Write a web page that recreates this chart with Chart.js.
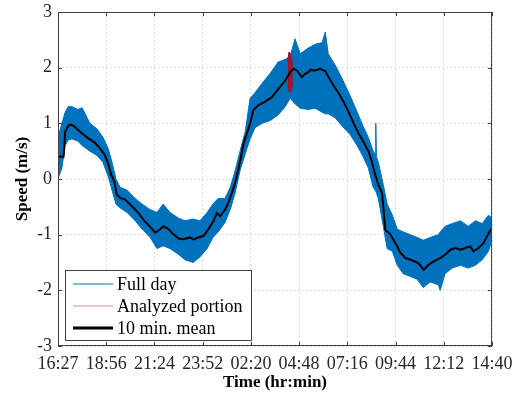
<!DOCTYPE html>
<html>
<head>
<meta charset="utf-8">
<script src="https://cdn.jsdelivr.net/npm/chart.js@4/dist/chart.umd.min.js"></script>
<style>
  html, body { margin: 0; padding: 0; background: #fff; }
  canvas { display: block; }
</style>
</head>
<body>
<canvas id="speedChart" width="519" height="395"></canvas>
<script>
// time axis: minutes after 16:27, labels every ~148 min
const timeLabels = ['16:27', '18:56', '21:24', '23:52', '02:20', '04:48', '07:16', '09:44', '12:12', '14:40'];
const spanMinutes = 1333;

// full-day record, drawn as the band between its upper and lower edge
const envTime = [0, 12, 22, 31, 43, 61, 74, 98, 120, 138, 154, 166, 178, 191, 212, 237, 258, 283, 304, 323,
  344, 369, 390, 415, 436, 458, 476, 492, 513, 529, 544, 559, 575, 590, 605, 627, 652, 676, 698, 713,
  728, 744, 768, 790, 811, 821, 830, 851, 873, 897, 919, 937, 953, 968, 974, 976, 978, 984, 999, 1011,
  1027, 1042, 1060, 1082, 1103, 1122, 1143, 1168, 1174, 1189, 1211, 1236, 1260, 1282, 1303, 1322, 1333];
const envUpper = [0.75, 1.0, 1.2, 1.3, 1.3, 1.25, 1.28, 1.0, 0.9, 0.75, 0.55, 0.3, 0.0, -0.15, -0.2, -0.35, -0.45, -0.55, -0.6, -0.45,
  -0.6, -0.7, -0.75, -0.72, -0.75, -0.6, -0.45, -0.35, -0.35, -0.15, 0.15, 0.5, 0.85, 1.45, 1.55, 1.72, 1.9, 2.1, 2.15, 2.2,
  2.52, 2.25, 2.35, 2.42, 2.45, 2.64, 2.25, 2.05, 1.8, 1.5, 1.2, 0.95, 0.75, 0.5, 0.45, 1.0, 0.4, 0.3, -0.1, -0.45,
  -0.65, -0.9, -0.95, -1.0, -1.05, -1.1, -1.05, -1.0, -0.95, -0.85, -0.8, -0.75, -0.85, -0.75, -0.8, -0.65, -0.7];
const envLower = [0.0, 0.2, 0.6, 0.7, 0.72, 0.68, 0.6, 0.5, 0.42, 0.3, 0.05, -0.2, -0.45, -0.52, -0.6, -0.75, -0.9, -1.05, -1.25, -1.2,
  -1.25, -1.35, -1.45, -1.5, -1.4, -1.25, -1.05, -0.95, -0.78, -0.55, -0.25, 0.15, 0.45, 0.72, 0.92, 1.0, 1.05, 1.15, 1.3, 1.45,
  1.35, 1.27, 1.25, 1.27, 1.2, 1.17, 1.17, 1.1, 0.95, 0.8, 0.6, 0.4, 0.2, -0.15, -0.2, -0.22, -0.25, -0.35, -0.85, -1.25,
  -1.3, -1.55, -1.7, -1.75, -1.8, -1.95, -1.85, -1.9, -2.0, -1.7, -1.6, -1.55, -1.6, -1.55, -1.45, -1.3, -1.1];

// analyzed portion
const redTime = [706, 709, 713, 717, 721];
const redUpper = [2.12, 2.28, 2.26, 2.18, 2.02];
const redLower = [1.7, 1.58, 1.55, 1.6, 1.75];

// 10 min. mean
const meanTime = [0, 13, 17, 19, 22, 30, 37, 47, 62, 78, 93, 114, 129, 144, 155, 163, 173, 180, 191, 206,
  227, 247, 262, 283, 298, 308, 324, 339, 354, 370, 385, 406, 416, 431, 447, 462, 477, 488, 498, 513,
  523, 534, 544, 554, 562, 570, 580, 590, 600, 616, 636, 657, 677, 698, 713, 723, 734, 749, 759, 769,
  775, 790, 805, 821, 831, 846, 862, 877, 892, 908, 923, 938, 954, 964, 974, 984, 995, 1000, 1005, 1020,
  1031, 1041, 1051, 1067, 1087, 1107, 1123, 1138, 1154, 1174, 1189, 1205, 1220, 1236, 1251, 1266, 1276, 1292, 1307, 1323, 1333];
const meanSpeed = [0.40, 0.40, 0.40, 0.55, 0.85, 0.94, 0.98, 0.96, 0.88, 0.80, 0.73, 0.65, 0.55, 0.43, 0.26, 0.08, -0.04, -0.28, -0.34, -0.37,
  -0.49, -0.61, -0.73, -0.86, -0.96, -0.93, -0.85, -0.90, -0.99, -1.07, -1.08, -1.05, -1.09, -1.05, -1.02, -0.90, -0.76, -0.61, -0.67, -0.55,
  -0.43, -0.25, -0.07, 0.17, 0.40, 0.64, 0.82, 1.00, 1.24, 1.33, 1.39, 1.47, 1.62, 1.77, 1.92, 1.98, 1.95, 1.83, 1.89, 1.92,
  1.96, 1.95, 1.98, 1.94, 1.83, 1.68, 1.54, 1.39, 1.21, 1.00, 0.82, 0.67, 0.49, 0.31, 0.08, -0.10, -0.25, -0.55, -0.91, -0.99,
  -1.10, -1.20, -1.32, -1.42, -1.46, -1.51, -1.63, -1.54, -1.48, -1.42, -1.36, -1.27, -1.24, -1.27, -1.24, -1.21, -1.30, -1.24, -1.15, -0.97, -0.88];

const BLUE = '#0072BD';
const RED = '#A2142F';
const SERIF = "'Liberation Serif', 'Times New Roman', serif";

const pts = (xs, ys) => xs.map((x, i) => ({ x: x, y: ys[i] }));

// MATLAB style box, inward ticks and the legend inside the axes
const axesBox = {
  id: 'axesBox',
  afterDraw(chart) {
    const { ctx, chartArea: a, scales: { x, y } } = chart;
    ctx.save();
    ctx.strokeStyle = '#404040';
    ctx.lineWidth = 1;
    ctx.strokeRect(Math.round(a.left) + 0.5, Math.round(a.top) + 0.5,
      Math.round(a.right - a.left) - 1, Math.round(a.bottom - a.top) - 1);
    ctx.beginPath();
    x.ticks.forEach(t => {
      const px = Math.round(x.getPixelForValue(t.value)) + 0.5;
      ctx.moveTo(px, a.bottom); ctx.lineTo(px, a.bottom - 4);
      ctx.moveTo(px, a.top); ctx.lineTo(px, a.top + 4);
    });
    y.ticks.forEach(t => {
      const py = Math.round(y.getPixelForValue(t.value)) + 0.5;
      ctx.moveTo(a.left, py); ctx.lineTo(a.left + 4, py);
      ctx.moveTo(a.right, py); ctx.lineTo(a.right - 4, py);
    });
    ctx.stroke();

    // legend
    const items = [
      { text: 'Full day', color: BLUE, width: 1 },
      { text: 'Analyzed portion', color: '#d98a9a', width: 1 },
      { text: '10 min. mean', color: '#000', width: 3 }
    ];
    const bx = 65.5, by = 270.5, bw = 186, bh = 70;
    ctx.fillStyle = '#fff';
    ctx.fillRect(bx, by, bw, bh);
    ctx.strokeStyle = '#404040';
    ctx.lineWidth = 1;
    ctx.strokeRect(bx, by, bw, bh);
    ctx.font = '18px ' + SERIF;
    ctx.textBaseline = 'middle';
    items.forEach((it, i) => {
      const ly = 284 + i * 22;
      ctx.beginPath();
      ctx.strokeStyle = it.color;
      ctx.lineWidth = it.width;
      ctx.moveTo(73, ly); ctx.lineTo(113, ly);
      ctx.stroke();
      ctx.fillStyle = '#000';
      ctx.fillText(it.text, 117, ly + 1);
    });
    ctx.restore();
  }
};

new Chart(document.getElementById('speedChart'), {
  type: 'line',
  data: {
    datasets: [{
      label: '10 min. mean',
      data: pts(meanTime, meanSpeed),
      borderColor: '#000',
      borderWidth: 2,
      pointRadius: 0,
      fill: false,
      order: 0
    }, {
      label: 'Analyzed portion',
      data: pts(redTime, redUpper),
      borderColor: RED,
      backgroundColor: RED,
      borderWidth: 1,
      pointRadius: 0,
      fill: '+1',
      order: 1
    }, {
      label: 'analyzed lower',
      data: pts(redTime, redLower),
      borderColor: RED,
      borderWidth: 1,
      pointRadius: 0,
      fill: false,
      order: 1
    }, {
      label: 'Full day',
      data: pts(envTime, envUpper),
      borderColor: BLUE,
      backgroundColor: BLUE,
      borderWidth: 1,
      pointRadius: 0,
      fill: '+1',
      order: 2
    }, {
      label: 'full day lower',
      data: pts(envTime, envLower),
      borderColor: BLUE,
      borderWidth: 1,
      pointRadius: 0,
      fill: false,
      order: 2
    }]
  },
  options: {
    responsive: false,
    animation: false,
    devicePixelRatio: 1,
    layout: { padding: { left: 0, top: 12, right: 27, bottom: 0 } },
    plugins: {
      legend: { display: false },
      tooltip: { enabled: false }
    },
    scales: {
      x: {
        type: 'linear',
        min: 0,
        max: spanMinutes,
        afterBuildTicks: (scale) => {
          scale.ticks = timeLabels.map((_, i) => ({ value: i * spanMinutes / 9 }));
        },
        afterFit: (scale) => {
          scale.height = 49;
          scale.paddingLeft = 0;
          scale.paddingRight = 0;
        },
        ticks: {
          autoSkip: false,
          maxRotation: 0,
          padding: 7,
          color: '#262626',
          font: { family: SERIF, size: 18 },
          callback: (value, index) => timeLabels[index]
        },
        grid: { color: 'rgba(0,0,0,0.13)', tickLength: 0, drawTicks: false },
        border: { display: false, dash: [2, 2] },
        title: {
          display: true,
          text: 'Time (hr:min)',
          color: '#000',
          font: { family: SERIF, size: 17, weight: 'bold' },
          padding: { top: 0, bottom: 2 }
        }
      },
      y: {
        min: -3,
        max: 3,
        afterFit: (scale) => {
          scale.width = 58;
          scale.paddingTop = 0;
          scale.paddingBottom = 0;
        },
        ticks: {
          stepSize: 1,
          padding: 6,
          color: '#262626',
          font: { family: SERIF, size: 18 }
        },
        grid: { color: 'rgba(0,0,0,0.13)', drawTicks: false },
        border: { display: false, dash: [2, 2] },
        title: {
          display: true,
          text: 'Speed (m/s)',
          color: '#000',
          font: { family: SERIF, size: 17, weight: 'bold' },
          padding: { top: 12, bottom: 0 }
        }
      }
    }
  },
  plugins: [axesBox]
});
</script>
</body>
</html>
